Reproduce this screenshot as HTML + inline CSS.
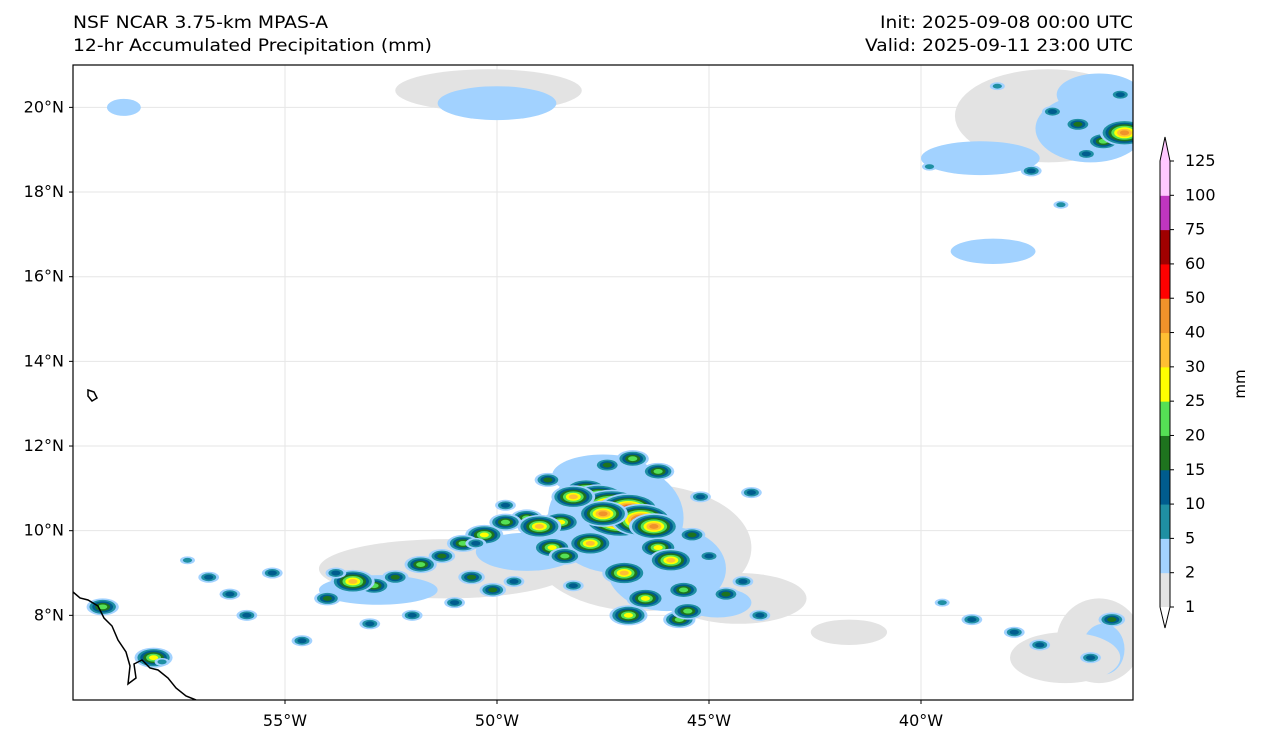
<!DOCTYPE html>
<html><head><meta charset="utf-8">
<style>
html,body{margin:0;padding:0;background:#fff;}
svg{display:block;font-family:"DejaVu Sans","Liberation Sans",sans-serif;}
</style></head>
<body>
<svg id="chart" width="1262" height="745" viewBox="0 0 1262 745" xmlns="http://www.w3.org/2000/svg">
<rect width="1262" height="745" fill="#fff"/>
<text x="73" y="28" font-size="17" textLength="255" lengthAdjust="spacingAndGlyphs">NSF NCAR 3.75-km MPAS-A</text>
<text x="73" y="51" font-size="17" textLength="359" lengthAdjust="spacingAndGlyphs">12-hr Accumulated Precipitation (mm)</text>
<text x="880" y="28" font-size="17" textLength="253" lengthAdjust="spacingAndGlyphs">Init: 2025-09-08 00:00 UTC</text>
<text x="865" y="51" font-size="17" textLength="268" lengthAdjust="spacingAndGlyphs">Valid: 2025-09-11 23:00 UTC</text>
<defs><clipPath id="mapclip"><rect x="73" y="65" width="1060" height="635"/></clipPath></defs>
<g id="grid"></g>
<g id="rain" clip-path="url(#mapclip)"></g>
<g id="coast" clip-path="url(#mapclip)">
<path d="M73,592 L80,598 L88,600 L98,606 L104,618 L112,626 L118,640 L126,652 L130,666 L128,684 L136,678 L134,664 L142,660 L150,668 L158,670 L168,678 L176,688 L186,696 L196,700" fill="none" stroke="#000" stroke-width="1.5"/>
<path d="M88,390 L94,392 L97,398 L92,401 L88,396 Z" fill="none" stroke="#000" stroke-width="1.5"/>
</g>
<rect x="73" y="65" width="1060" height="635" fill="none" stroke="#000" stroke-width="1.2"/>
<g id="axes"></g>
<g id="cbar"></g>
<text x="1245" y="384" font-size="15" text-anchor="middle" transform="rotate(-90 1245 384)">mm</text>
</svg>
<script>
const lonTicks=[-55,-50,-45,-40];
const latTicks=[8,10,12,14,16,18,20];
const levels=[1,2,5,10,15,20,25,30,40,50,60,75,100,125];
const colors=["#e3e3e3","#a2d2ff","#1f8fa3","#005c8e","#1e731e","#55e055","#ffff00","#ffbf33","#f0922a","#ff0000","#a00000","#c035c0","#ffc8ff"];
// precipitation washes: lon, lat, radius-lon(deg), radius-lat(deg), mm
const washLon=[-46.6,-44.3,-47.2,-46.0,-44.8,-47.5,-51.2,-49.3,-52.8,-37.0,-36.0,-35.8,-50.2,-50.0,-35.8,-35.7,-38.6,-58.8,-41.7,-38.3,-36.6];
const washLat=[9.6,8.4,10.3,9.1,8.3,11.3,9.1,9.5,8.6,19.8,19.5,20.3,20.4,20.1,7.4,7.2,18.8,20.0,7.6,16.6,7.0];
const washRx=[2.6,1.6,1.6,1.4,0.8,1.2,3.0,1.2,1.4,2.2,1.3,1.0,2.2,1.4,1.0,0.5,1.4,0.4,0.9,1.0,1.3];
const washRy=[1.5,0.6,1.3,1.0,0.35,0.5,0.7,0.45,0.35,1.1,0.8,0.5,0.5,0.4,1.0,0.6,0.4,0.2,0.3,0.3,0.6];
const washMm=[1,1,3,3,3,3,1,3,3,1,3,3,1,3,1,3,3,3,1,3,1];
// convective cells: lon, lat, mm
const cellLon=[-47.9,-47.6,-47.3,-47.1,-46.9,-46.6,-47.5,-48.2,-46.3,-46.2,-45.9,-45.6,-46.5,-47.0,-45.4,-45.0,-44.6,-46.8,-47.4,-46.2,-45.2,-44.2,-43.8,-46.9,-45.7,-47.8,-48.5,-48.9,-49.3,-49.8,-50.3,-50.8,-51.3,-51.8,-52.4,-52.9,-53.4,-54.0,-50.1,-49.6,-48.7,-51.0,-52.0,-53.0,-55.3,-56.3,-56.8,-57.3,-55.9,-54.6,-49.0,-48.4,-50.6,-53.8,-59.3,-58.1,-36.9,-36.3,-35.7,-36.1,-37.4,-35.3,-39.8,-38.2,-35.2,-36.7,-37.2,-36.0,-48.8,-49.8,-50.5,-48.2,-38.8,-39.5,-37.8,-35.5,-57.9,-45.5,-44.0];
const cellLat=[10.95,10.75,10.55,10.3,10.5,10.25,10.4,10.8,10.1,9.6,9.3,8.6,8.4,9.0,9.9,9.4,8.5,11.7,11.55,11.4,10.8,8.8,8.0,8.0,7.9,9.7,10.2,10.0,10.3,10.2,9.9,9.7,9.4,9.2,8.9,8.7,8.8,8.4,8.6,8.8,9.6,8.3,8.0,7.8,9.0,8.5,8.9,9.3,8.0,7.4,10.1,9.4,8.9,9.0,8.2,7.0,19.9,19.6,19.2,18.9,18.5,20.3,18.6,20.5,19.4,17.7,7.3,7.0,11.2,10.6,9.7,8.7,7.9,8.3,7.6,7.9,6.9,8.1,10.9];
const cellMm=[35,55,80,110,60,70,45,30,40,28,32,22,25,30,18,14,16,22,18,20,14,12,14,28,20,30,26,18,22,24,26,20,18,22,16,24,30,16,18,14,28,12,10,12,12,14,10,8,10,12,30,22,16,14,20,26,14,16,22,10,10,12,8,8,40,6,14,12,16,12,12,14,10,8,12,16,8,22,12];

const X=lon=>73+(lon+60)*42.4, Y=lat=>700-(lat-6)*42.33;
const NS="http://www.w3.org/2000/svg";
function mk(tag,attrs,parent){const e=document.createElementNS(NS,tag);for(const k in attrs)e.setAttribute(k,attrs[k]);parent.appendChild(e);return e;}
function colorFor(v){let i=0;for(let k=0;k<levels.length-1;k++){if(v>=levels[k])i=k;}return colors[i];}
const grid=document.getElementById('grid'),rain=document.getElementById('rain'),axes=document.getElementById('axes'),cbar=document.getElementById('cbar');
lonTicks.forEach(l=>{const g=mk('line',{x1:X(l),x2:X(l),y1:65,y2:700,stroke:'#e6e6e6','stroke-width':1},grid);


mk('line',{x1:X(l),x2:X(l),y1:700,y2:704,stroke:'#000'},axes);
const t=mk('text',{x:X(l),y:726,'font-size':16,'text-anchor':'middle'},axes);t.textContent=Math.abs(l)+'°W';

});
latTicks.forEach(l=>{const g=mk('line',{x1:73,x2:1133,y1:Y(l),y2:Y(l),stroke:'#e6e6e6','stroke-width':1},grid);


mk('line',{x1:69,x2:73,y1:Y(l),y2:Y(l),stroke:'#000'},axes);
const t=mk('text',{x:64,y:Y(l)+5,'font-size':16,'text-anchor':'end'},axes);t.textContent=l+'°N';

});
washLon.forEach((lon,i)=>{const e=mk('ellipse',{cx:X(lon),cy:Y(washLat[i]),rx:washRx[i]*42.4,ry:washRy[i]*42.33,fill:colorFor(washMm[i])},rain);

});
cellLon.forEach((lon,i)=>{const v=cellMm[i];const cx=X(lon),cy=Y(cellLat[i]);
const steps=levels.filter(l=>l<=v&&l>=2);const n=steps.length;
steps.forEach((lv,k)=>{const r=(n-k)*1.7+1;const e=mk('ellipse',{cx:cx,cy:cy,rx:r*1.7,ry:r*0.9,fill:colorFor(lv)},rain);

});});
const cbX=1160,cbW=10,cbTop=161,cbBot=607,nSeg=levels.length-1,segH=(cbBot-cbTop)/nSeg;
for(let k=0;k<nSeg;k++){const r=mk('rect',{x:cbX,y:cbBot-(k+1)*segH,width:cbW,height:segH+0.5,fill:colors[k]},cbar);

}
let p=mk('polygon',{points:`${cbX},${cbTop} ${cbX+cbW},${cbTop} ${cbX+cbW/2},${cbTop-24}`,fill:colors[nSeg-1]},cbar);


p=mk('polygon',{points:`${cbX},${cbBot} ${cbX+cbW},${cbBot} ${cbX+cbW/2},${cbBot+21}`,fill:'#fff'},cbar);


p=mk('path',{d:`M${cbX},${cbTop} L${cbX+cbW/2},${cbTop-24} L${cbX+cbW},${cbTop} L${cbX+cbW},${cbBot} L${cbX+cbW/2},${cbBot+21} L${cbX},${cbBot} Z`,fill:'none',stroke:'#000','stroke-width':1},cbar);


levels.forEach((lv,k)=>{const y=cbBot-k*segH;mk('line',{x1:cbX+cbW,x2:cbX+cbW+4,y1:y,y2:y,stroke:'#000'},cbar);
const t=mk('text',{x:1185,y:y+5,'font-size':16},cbar);t.textContent=lv;

});
</script>
</body></html>
